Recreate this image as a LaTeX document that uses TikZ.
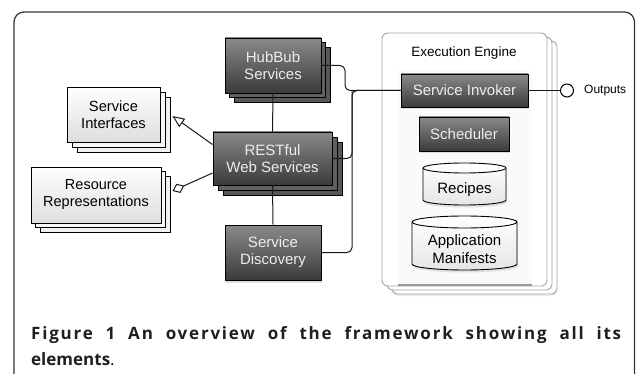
\documentclass[tikz,border=0pt]{standalone}
\usepackage{fontspec}
\setmainfont{Liberation Sans}
\newfontfamily\capfont[LetterSpace=10.5]{Open Sans}
\newfontfamily\capfontb{Open Sans}
\usetikzlibrary{shadows,arrows.meta,calc}
\newcommand\drawcyl[5]{%
  \draw[line width=0.9pt, top color=white, bottom color=black!10,
        drop shadow={opacity=0.2, shadow xshift=1pt, shadow yshift=-2.5pt}]
    (#1-#4,#2-#5) -- (#1-#4,#3+#5)
    arc[start angle=180,end angle=360,x radius=#4,y radius=#5]
    -- (#1+#4,#2-#5)
    arc[start angle=0,end angle=180,x radius=#4,y radius=#5] -- cycle;
  \draw[line width=0.9pt] (#1-#4,#2-#5)
    arc[start angle=180,end angle=360,x radius=#4,y radius=#5];
}
\begin{document}
\begin{tikzpicture}[x=1pt,y=1pt,
  txt/.style={font=\fontsize{15}{17}\selectfont, align=center, inner sep=0pt},
  dark/.style={txt, draw=black, line width=0.9pt, top color=black!46,
    bottom color=black!77, text=white!93!black},
  light/.style={txt, draw=black, line width=0.9pt, top color=white,
    bottom color=black!13, text=black},
  darkstack/.style={
    copy shadow={shadow xshift=#1*2, shadow yshift=-#1*2, fill=black!66, draw=black, line width=0.9pt},
    copy shadow={shadow xshift=#1, shadow yshift=-#1, fill=black!62, draw=black, line width=0.9pt}},
  lightstack/.style={
    copy shadow={shadow xshift=#1*2, shadow yshift=-#1*2, fill=black!6, draw=black, line width=0.9pt},
    copy shadow={shadow xshift=#1, shadow yshift=-#1, fill=black!3, draw=black, line width=0.9pt}},
  dshadow/.style={drop shadow={opacity=0.25, shadow xshift=1pt, shadow yshift=-2.5pt}},
  conn/.style={line width=1pt, draw=black!90},
]
\useasboundingbox (0,0) rectangle (636,-374);
% outer frame
\draw[line width=1.2pt, black!80, rounded corners=10pt] (14,-390) -- (14,-12) -- (634.5,-12) -- (634.5,-390);

% execution engine container
\node[draw=black!35, fill=white, rounded corners=6pt, line width=0.9pt,
  minimum width=165pt, minimum height=253pt, inner sep=0pt,
  drop shadow={opacity=0.15, shadow xshift=10pt, shadow yshift=-10pt},
  copy shadow={shadow xshift=10pt, shadow yshift=-8pt, fill=white, draw=black!35, line width=0.9pt},
  copy shadow={shadow xshift=5pt, shadow yshift=-4pt, fill=white, draw=black!35, line width=0.9pt}]
  (ee) at (464.5,-159.5) {};
\fill[black!2] (398,-70) rectangle (532,-284);
\draw[black!40, line width=2pt] (398,-285) -- (532,-285);
\node[font=\fontsize{13.5}{16}\selectfont, inner sep=0pt] (eet) at (464,-53) {Execution Engine};

% nodes
\node[dark, darkstack=4.7pt, minimum width=96pt, minimum height=55pt] (hub) at (273,-65.5) {HubBub\\Services};
\node[dark, darkstack=5pt, minimum width=119pt, minimum height=53pt] (rest) at (272.5,-158.5) {RESTful\\Web Services};
\node[dark, dshadow, minimum width=96pt, minimum height=55pt] (sd) at (273,-252.5) {Service\\Discovery};
\node[light, lightstack=5pt, minimum width=93pt, minimum height=55pt, font=\fontsize{14.7}{17}\selectfont] (sif) at (113.5,-114.5) {Service\\Interfaces};
\node[light, lightstack=4.8pt, minimum width=130pt, minimum height=56pt, font=\fontsize{14.5}{17}\selectfont] (rr) at (96,-195) {Resource\\Representations};
\node[dark, dshadow, minimum width=127pt, minimum height=33pt] (inv) at (464.5,-90.5) {Service Invoker};
\node[dark, dshadow, minimum width=90pt, minimum height=34pt] (sch) at (464,-134) {Scheduler};

% cylinders
\drawcyl{464.5}{-163}{-205}{41.5}{5}
\node[txt] (rec) at (464.5,-189.5) {Recipes};
\drawcyl{464.5}{-216}{-270}{52.5}{6}
\node[txt, font=\fontsize{15}{18}\selectfont] (am) at (464.5,-249) {Application\\Manifests};

% connectors
\coordinate (bus) at (352,-90.5);
\coordinate (hj) at (345,-78);
\draw[conn, rounded corners=5pt] (hub.east) -| (hj) |- (inv.west);
\draw[conn, rounded corners=5pt] (sd.east) -| (bus) -- (inv.west);
\draw[conn, rounded corners=5pt] (rest.east) -| (bus);
\draw[conn] (hub.south) -- (rest.north);
\draw[conn] (rest.south) -- (sd.north);
\draw[conn, -{Triangle[open,length=12pt,width=10pt,line width=1pt]}] ([yshift=14pt]rest.west) -- ([xshift=12pt,yshift=-1.5pt]sif.east);
\draw[conn, {Diamond[open,length=13pt,width=10pt,line width=1pt]}-] ([xshift=11pt,yshift=4pt]rr.east) -- ([yshift=-14.5pt]rest.west);

% outputs
\node[circle, draw, line width=1pt, fill=white, minimum size=13pt, inner sep=0pt] (out) at (567,-90.5) {};
\draw[conn] (inv.east) -- (out.west);
\node[anchor=west, font=\fontsize{12}{14}\selectfont, inner sep=0pt] (outl) at (584,-90.5) {Outputs};

% caption
\node[anchor=base west, inner sep=0pt, text=black!88, font=\capfont\bfseries\fontsize{17}{20}\selectfont] (cap1) at (31,-339)
  {\makebox[590pt][s]{Figure 1 An overview of the framework showing all its}};
\node[anchor=base west, inner sep=0pt, text=black!88, font=\capfontb\fontsize{17}{20}\selectfont] (cap2) at (31,-365)
  {\textbf{elements}.};
\end{tikzpicture}
\end{document}
